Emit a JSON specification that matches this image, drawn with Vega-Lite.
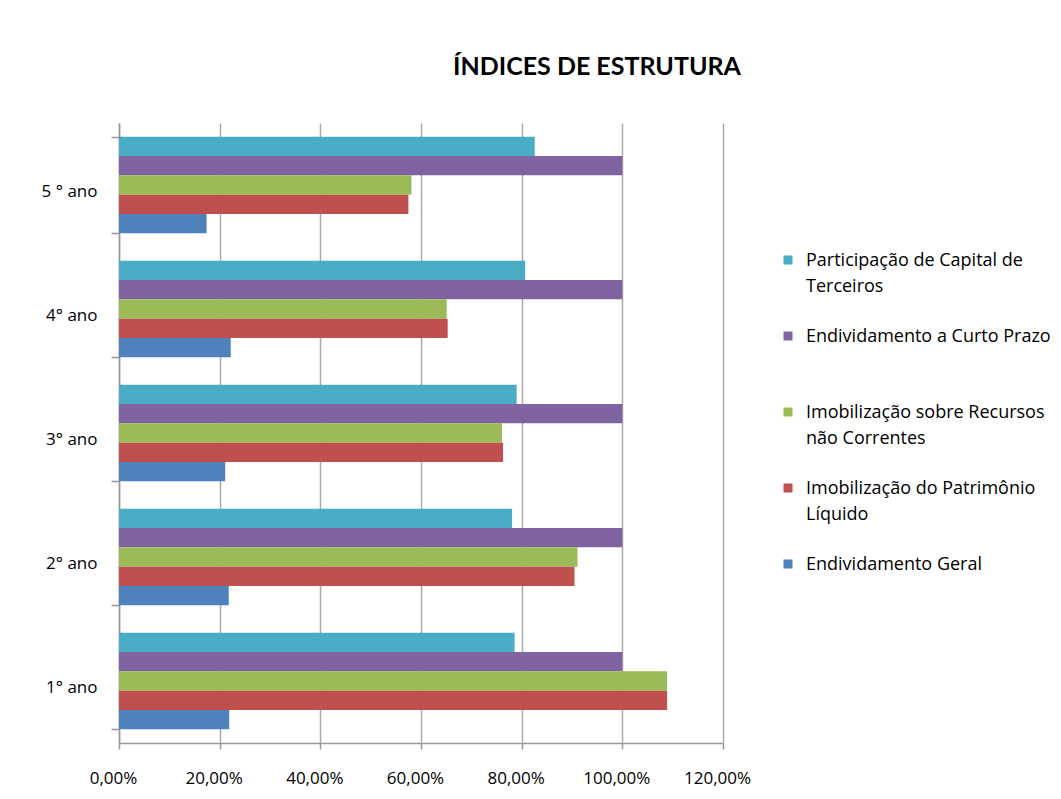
{
  "$schema": "https://vega.github.io/schema/vega-lite/v6.json",
  "autosize": {"type": "none"},
  "width": 604,
  "height": 620,
  "padding": {"left": 119, "top": 123, "right": 338, "bottom": 56},
  "background": "white",
  "config": {
    "view": {"stroke": null},
    "font": "Open Sans",
    "style": {"guide-label": {"lineHeight": 26}}
  },
  "title": {
    "text": "ÍNDICES DE ESTRUTURA",
    "font": "Lato",
    "fontSize": 25,
    "fontWeight": "bold",
    "color": "#000000",
    "dx": 176,
    "offset": 14,
    "baseline": "alphabetic"
  },
  "data": {
    "values": [
      {"ano": "5 ° ano", "serie": "Participação de Capital de Terceiros", "valor": 0.826},
      {"ano": "5 ° ano", "serie": "Endividamento a Curto Prazo", "valor": 1.0},
      {"ano": "5 ° ano", "serie": "Imobilização sobre Recursos não Correntes", "valor": 0.581},
      {"ano": "5 ° ano", "serie": "Imobilização do Patrimônio Líquido", "valor": 0.575},
      {"ano": "5 ° ano", "serie": "Endividamento Geral", "valor": 0.174},
      {"ano": "4° ano", "serie": "Participação de Capital de Terceiros", "valor": 0.807},
      {"ano": "4° ano", "serie": "Endividamento a Curto Prazo", "valor": 1.0},
      {"ano": "4° ano", "serie": "Imobilização sobre Recursos não Correntes", "valor": 0.651},
      {"ano": "4° ano", "serie": "Imobilização do Patrimônio Líquido", "valor": 0.653},
      {"ano": "4° ano", "serie": "Endividamento Geral", "valor": 0.222},
      {"ano": "3° ano", "serie": "Participação de Capital de Terceiros", "valor": 0.79},
      {"ano": "3° ano", "serie": "Endividamento a Curto Prazo", "valor": 1.0},
      {"ano": "3° ano", "serie": "Imobilização sobre Recursos não Correntes", "valor": 0.761},
      {"ano": "3° ano", "serie": "Imobilização do Patrimônio Líquido", "valor": 0.763},
      {"ano": "3° ano", "serie": "Endividamento Geral", "valor": 0.211},
      {"ano": "2° ano", "serie": "Participação de Capital de Terceiros", "valor": 0.781},
      {"ano": "2° ano", "serie": "Endividamento a Curto Prazo", "valor": 1.0},
      {"ano": "2° ano", "serie": "Imobilização sobre Recursos não Correntes", "valor": 0.911},
      {"ano": "2° ano", "serie": "Imobilização do Patrimônio Líquido", "valor": 0.905},
      {"ano": "2° ano", "serie": "Endividamento Geral", "valor": 0.218},
      {"ano": "1° ano", "serie": "Participação de Capital de Terceiros", "valor": 0.786},
      {"ano": "1° ano", "serie": "Endividamento a Curto Prazo", "valor": 1.0},
      {"ano": "1° ano", "serie": "Imobilização sobre Recursos não Correntes", "valor": 1.089},
      {"ano": "1° ano", "serie": "Imobilização do Patrimônio Líquido", "valor": 1.089},
      {"ano": "1° ano", "serie": "Endividamento Geral", "valor": 0.219}
    ]
  },
  "mark": {"type": "bar", "stroke": null},
  "encoding": {
    "y": {
      "field": "ano",
      "type": "nominal",
      "sort": ["5 ° ano", "4° ano", "3° ano", "2° ano", "1° ano"],
      "scale": {"paddingInner": 0.22, "paddingOuter": 0.11},
      "axis": {
        "title": null,
        "labelFont": "Open Sans",
        "labelFontSize": 17,
        "labelColor": "#000000",
        "labelPadding": 14,
        "labelOffset": 6,
        "tickBand": "extent",
        "tickSize": 8,
        "tickColor": "#999999",
        "domainColor": "#999999",
        "domainWidth": 1.5,
        "tickWidth": 1.5
      }
    },
    "yOffset": {
      "field": "serie",
      "type": "nominal",
      "sort": ["Participação de Capital de Terceiros", "Endividamento a Curto Prazo", "Imobilização sobre Recursos não Correntes", "Imobilização do Patrimônio Líquido", "Endividamento Geral"],
      "scale": {"paddingInner": 0, "paddingOuter": 0}
    },
    "x": {
      "field": "valor",
      "type": "quantitative",
      "scale": {"domain": [0, 1.2], "nice": false},
      "axis": {
        "title": null,
        "values": [0, 0.2, 0.4, 0.6, 0.8, 1.0, 1.2],
        "labelExpr": "replace(format(datum.value, '.2%'), '.', ',')",
        "labelFont": "Open Sans",
        "labelFontSize": 17,
        "labelColor": "#000000",
        "labelPadding": 21,
        "labelFlush": false,
        "labelOffset": -6,
        "grid": true,
        "gridColor": "#aaaaaa",
        "gridWidth": 1.5,
        "domainColor": "#999999",
        "domainWidth": 1.5,
        "tickColor": "#999999",
        "tickSize": 6,
        "tickWidth": 1.5
      }
    },
    "color": {
      "field": "serie",
      "type": "nominal",
      "scale": {
        "domain": ["Participação de Capital de Terceiros", "Endividamento a Curto Prazo", "Imobilização sobre Recursos não Correntes", "Imobilização do Patrimônio Líquido", "Endividamento Geral"],
        "range": ["#4BACC6", "#8064A2", "#9BBB59", "#C0504D", "#4F81BD"]
      },
      "legend": {
        "title": null,
        "orient": "none",
        "legendX": 660,
        "legendY": 128,
        "symbolType": "square",
        "symbolSize": 81,
        "symbolStrokeWidth": 0,
        "labelFont": "Open Sans",
        "labelFontSize": 18,
        "labelColor": "#000000",
        "labelBaseline": "alphabetic",
        "labelLimit": 400,
        "labelOffset": 9,
        "gridAlign": "all",
        "rowPadding": 31,
        "encoding": {"labels": {"dy": {"value": 6}}},
        "labelExpr": "datum.label == 'Participação de Capital de Terceiros' ? ['Participação de Capital de', 'Terceiros'] : datum.label == 'Imobilização sobre Recursos não Correntes' ? ['Imobilização sobre Recursos', 'não Correntes'] : datum.label == 'Imobilização do Patrimônio Líquido' ? ['Imobilização do Patrimônio', 'Líquido'] : datum.label"
      }
    }
  }
}
